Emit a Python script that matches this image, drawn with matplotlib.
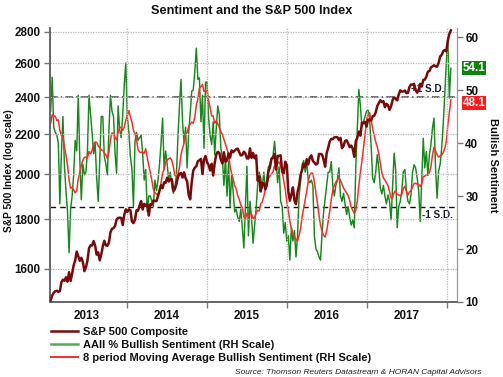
import matplotlib
matplotlib.use('Agg')
import matplotlib.pyplot as plt
import matplotlib.dates as mdates
import matplotlib.ticker as mticker
from matplotlib.transforms import blended_transform_factory
from matplotlib.lines import Line2D
import numpy as np
import pandas as pd

plt.rcParams['font.family'] = ['Liberation Sans', 'DejaVu Sans']

# ---------------- data ----------------
start_date = '2013-01-17'
n_weeks = 262

sp500 = [
    # 2013
    1486, 1503, 1513, 1518, 1520, 1516, 1518, 1551, 1560, 1556, 1569, 1553, 1588, 1555, 1582,
    1614, 1633, 1667, 1649, 1631, 1643, 1626, 1592, 1606, 1632, 1680, 1692, 1691, 1709, 1691,
    1655, 1664, 1633, 1655, 1688, 1710, 1692, 1690, 1703, 1745, 1759, 1762, 1771, 1798, 1805,
    1806, 1805, 1775, 1818, 1842,
    # 2014
    1831, 1842, 1838, 1790, 1783, 1797, 1838, 1836, 1859, 1878, 1841, 1866, 1857, 1865, 1815,
    1864, 1863, 1881, 1878, 1878, 1900, 1924, 1950, 1936, 1963, 1961, 1985, 1967, 1978, 1978,
    1925, 1931, 1955, 1988, 2003, 2007, 1985, 2010, 1982, 1968, 1906, 1886, 1964, 2018, 2032,
    2039, 2064, 2068, 2075, 2002, 2071, 2089,
    # 2015
    2058, 2045, 2019, 2051, 1995, 2055, 2097, 2110, 2104, 2071, 2053, 2108, 2061, 2067, 2102,
    2081, 2117, 2108, 2116, 2123, 2126, 2107, 2092, 2094, 2110, 2102, 2077, 2077, 2127, 2080,
    2104, 2078, 2092, 1971, 1989, 1921, 1961, 1958, 1931, 1951, 2014, 2033, 2075, 2079, 2099,
    2023, 2089, 2090, 2092, 2012, 2006, 2061, 2044,
    # 2016
    1922, 1880, 1907, 1940, 1880, 1865, 1918, 1948, 1999, 2022, 2050, 2036, 2073, 2048, 2081,
    2092, 2065, 2057, 2047, 2052, 2099, 2099, 2096, 2071, 2037, 2103, 2130, 2162, 2175, 2174,
    2183, 2184, 2184, 2169, 2180, 2128, 2139, 2165, 2168, 2153, 2133, 2141, 2126, 2085, 2164,
    2182, 2213, 2192, 2260, 2258, 2264, 2239,
    # 2017
    2277, 2274, 2271, 2295, 2297, 2316, 2351, 2367, 2383, 2372, 2378, 2344, 2363, 2355, 2329,
    2349, 2384, 2399, 2391, 2382, 2416, 2439, 2432, 2433, 2438, 2423, 2425, 2459, 2473, 2472,
    2477, 2441, 2426, 2443, 2477, 2461, 2500, 2502, 2519, 2549, 2553, 2575, 2581, 2588, 2582,
    2579, 2602, 2642, 2652, 2675, 2683, 2674,
    # 2018
    2743, 2786, 2810,
]

# AAII bullish % -- seven weeks before the chart start (for the moving average)
bullish_prior = [40, 45, 42, 48, 39, 44, 46]
bullish = [
    46, 52.4, 43, 42, 41.5, 40, 28.5, 38, 45, 35.5,
    31, 27, 19.3, 27.5, 30, 34, 40.5, 38.5, 49, 37,
    29.3, 36, 34, 34.5, 38.5, 49, 45.5, 42, 38, 40,
    33.5, 29, 36.5, 45, 45, 37.5, 36, 34, 42.5, 49,
    46, 45, 38, 34.3, 47, 42.5, 41, 45.3, 51, 55.1,
    45, 42, 37.5, 35, 28, 40.3, 42, 40.5, 41, 41.5,
    38, 33, 35, 27, 30, 30, 29, 28, 33, 31,
    33, 36, 40, 44.7, 35, 38.5, 36, 33, 34.5, 32,
    30.5, 31.5, 34, 41, 47, 52, 44, 40, 43, 35.3,
    42, 45.5, 49.8, 50, 53.5, 57.9, 52, 52.3, 44, 49,
    39, 51.5, 51.5, 44.7, 41.5, 39.7, 44, 37.8, 42.8, 47,
    45.4, 39, 37.2, 32, 37.2, 30, 36.5, 28, 34, 31,
    27, 27.5, 26, 25.2, 27.5, 24, 20.2, 28, 35.6, 22.5,
    29, 26, 21.1, 24.5, 27.7, 32.1, 34.5, 33.5, 31.5, 34.5,
    31.5, 33, 35.5, 36, 37.2, 37.5, 40.3, 37, 32.5, 35.5,
    29, 28, 23, 25, 21.5, 22.5, 17.9, 24, 21.5, 23.5,
    18.5, 22.5, 30, 32.8, 35.9, 36.7, 34.5, 36.5, 33, 32.5,
    33, 32, 22.5, 20, 19.5, 18.5, 17.9, 23, 27, 29.5,
    32, 34.5, 34.5, 36.5, 32, 30, 32, 33, 35.3, 30,
    29, 30.5, 28.5, 26.5, 28, 26, 24.5, 25.5, 24, 35.5,
    43, 50.1, 47, 43, 44, 45, 46, 46.2, 44.5, 39.5,
    33.4, 32.5, 34.5, 37.8, 35.3, 31.5, 30.4, 32, 30, 28.5,
    30.2, 29, 25.5, 31.8, 38.1, 35, 24, 28, 29, 31,
    34.5, 35, 31, 29, 28.5, 30.2, 34.5, 35.9, 35.3, 33.5,
    31, 25.2, 32.8, 40.9, 35.3, 38.4, 34, 37.8, 39.7, 42.8,
    44.7, 35.3, 29.6, 34.7, 36, 39, 43.5, 49, 55, 59.8, 48.5, 54.1,
]

plus_1sd = 48.7
minus_1sd = 27.9
left_ticks = [1600, 1800, 2000, 2200, 2400, 2600, 2800]
right_ticks = [10, 20, 30, 40, 50, 60]
years = [2013, 2014, 2015, 2016, 2017]

dates = pd.date_range(start_date, periods=n_weeks, freq='7D')
ma8 = pd.Series(bullish_prior + bullish).rolling(8).mean().iloc[len(bullish_prior):].to_numpy()

# ---------------- figure ----------------
fig = plt.figure(figsize=(5.03, 3.77), dpi=100)
ax1 = fig.add_axes([50 / 503, 75 / 377, 407 / 503, 274 / 377])
ax2 = ax1.twinx()
ax1.set_zorder(ax2.get_zorder() + 1)
ax1.patch.set_visible(False)

brown = '#7a0a0a'
green = '#15891a'
red = '#ff2a2a'
txt = '#111111'

# Sentiment on right axis
ax2.axhline(plus_1sd, color='#444444', lw=1.1, ls=(0, (5, 2, 1, 2)), zorder=1)
ax2.axhline(minus_1sd, color='#111111', lw=1.0, ls=(0, (4, 3)), zorder=1)
ax2.plot(dates, bullish, color=green, lw=1.05, zorder=2)
ax2.plot(dates, ma8, color=red, lw=1.1, zorder=3)
ax2.set_ylim(10, 61.7)
ax2.set_yticks(right_ticks)
ax2.set_yticklabels([str(t) for t in right_ticks], fontsize=8.4, fontweight='bold', color=txt)
ax2.tick_params(axis='y', length=4, width=1, color='#777777', pad=2)
ax2.set_ylabel('Bullish Sentiment', rotation=270, fontsize=8, fontweight='bold',
               color=txt, labelpad=14)

# S&P 500 on left log axis
ax1.plot(dates, sp500, color=brown, lw=1.8, zorder=4)
ax1.set_yscale('log')
ax1.set_ylim(1480, 2826)
ax1.yaxis.set_major_locator(mticker.FixedLocator(left_ticks))
ax1.yaxis.set_minor_locator(mticker.NullLocator())
ax1.yaxis.set_major_formatter(mticker.FixedFormatter([str(t) for t in left_ticks]))
for lab in ax1.get_yticklabels():
    lab.set_fontsize(8.4)
    lab.set_fontweight('bold')
    lab.set_color(txt)
ax1.tick_params(axis='y', length=4, width=1, color='#777777', pad=3)
ax1.set_ylabel('S&P 500 Index (log scale)', fontsize=7.3, fontweight='bold', color=txt)
ax1.yaxis.set_label_coords(-0.088, 0.48)
ax1.grid(axis='y', color='#bbbbbb', ls=(0, (1, 1)), lw=0.9)

# x axis
ax1.set_xlim(pd.Timestamp('2013-01-14'), pd.Timestamp('2018-02-15'))
ax1.xaxis.set_major_locator(mdates.YearLocator())
ax1.xaxis.set_major_formatter(mticker.NullFormatter())
ax1.xaxis.set_minor_locator(mticker.FixedLocator(
    [mdates.date2num(pd.Timestamp(f'{y}-07-02')) for y in years]))
ax1.xaxis.set_minor_formatter(mticker.FixedFormatter([str(y) for y in years]))
ax1.tick_params(axis='x', which='major', length=4, width=1, color='#777777')
ax1.tick_params(axis='x', which='minor', length=0, pad=6)
for lab in ax1.get_xticklabels(minor=True):
    lab.set_fontsize(8.4)
    lab.set_fontweight('bold')
    lab.set_color(txt)
ax1.grid(axis='x', which='major', color='#bbbbbb', ls=(0, (1, 1)), lw=0.9)

for ax in (ax1, ax2):
    ax.spines['top'].set_visible(False)
    ax.spines['left'].set_color('#666666')
    ax.spines['right'].set_color('#999999')
    ax.spines['bottom'].set_color('#666666')
    ax.spines['left'].set_linewidth(1.2)
    ax.spines['bottom'].set_linewidth(1.2)

# S.D. labels
ax2.text(pd.Timestamp('2017-07-22'), plus_1sd + 0.6, '+1 S.D.', fontsize=7.2, fontweight='bold',
         color='#1a1a33', ha='left', va='bottom', zorder=6)
ax2.text(pd.Timestamp('2017-09-10'), minus_1sd - 0.6, '-1 S.D.', fontsize=7.2, fontweight='bold',
         color='#1a1a33', ha='left', va='top', zorder=6)

# last value boxes
tr = blended_transform_factory(ax2.transAxes, ax2.transData)
ax2.text(1.014, bullish[-1], f'{bullish[-1]:.1f}', transform=tr, ha='left', va='center',
         fontsize=8.4, fontweight='bold', color='white', clip_on=False, zorder=10,
         bbox=dict(boxstyle='square,pad=0.08', fc='#0d820d', ec='none'))
ax2.text(1.014, ma8[-1] - 0.55, f'{ma8[-1]:.1f}', transform=tr, ha='left', va='center',
         fontsize=8.4, fontweight='bold', color='white', clip_on=False, zorder=10,
         bbox=dict(boxstyle='square,pad=0.08', fc='#ff1a1a', ec='none'))

# title
fig.text(0.5, 1 - 11 / 377, 'Sentiment and the S&P 500 Index', ha='center', va='center',
         fontsize=9.2, fontweight='bold', color=txt)

# legend
handles = [Line2D([], [], color=brown, lw=1.8),
           Line2D([], [], color='#4caf50', lw=1.8),
           Line2D([], [], color=red, lw=1.4)]
labels = ['S&P 500 Composite', 'AAII % Bullish Sentiment (RH Scale)',
          '8 period Moving Average Bullish Sentiment (RH Scale)']
leg = fig.legend(handles, labels, loc='upper left', bbox_to_anchor=(51 / 503, 1 - 327 / 377),
                 frameon=False, handlelength=2.4, handletextpad=0.5, labelspacing=0.25,
                 borderpad=0, borderaxespad=0, prop={'size': 8, 'weight': 'bold'})
for t in leg.get_texts():
    t.set_color(txt)

fig.text(482 / 503, 1 - 372 / 377, 'Source: Thomson Reuters Datastream & HORAN Capital Advisors',
         ha='right', va='center', fontsize=6, style='italic', color='#222222')

fig.savefig('out.png', dpi=100)
